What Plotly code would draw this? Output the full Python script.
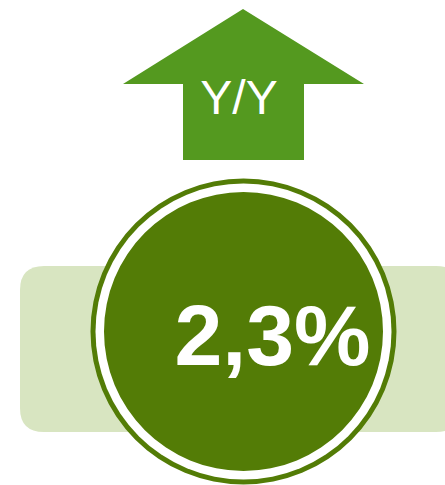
import plotly.graph_objects as go

# Data
indicator_label = ["Y/Y"]
indicator_value = [2.3]
direction = ["up"]

W, H = 445, 485
fig = go.Figure()

arrow_col = "#54991F"
circ_col = "#537C06"
band_col = "#D8E5C1"

def rounded_rect(x0, y0, x1, y1, r):
    return (f"M {x0+r},{y0} L {x1-r},{y0} Q {x1},{y0} {x1},{y0+r} "
            f"L {x1},{y1-r} Q {x1},{y1} {x1-r},{y1} L {x0+r},{y1} "
            f"Q {x0},{y1} {x0},{y1-r} L {x0},{y0+r} Q {x0},{y0} {x0+r},{y0} Z")

shapes = []
# background band
shapes.append(dict(type="path", path=rounded_rect(20, 266, 460, 432, 24),
                   fillcolor=band_col, line=dict(width=0), layer="below"))
# arrow
if direction[0] == "up":
    arrow = "M 243,9 L 364,84 L 304,84 L 304,160 L 183,160 L 183,84 L 123,84 Z"
    shapes.append(dict(type="path", path=arrow, fillcolor=arrow_col, line=dict(width=0), layer="below"))
cx, cy = 243.5, 331.5
R = 153
shapes.append(dict(type="circle", x0=cx-R, x1=cx+R, y0=cy-R, y1=cy+R,
                   fillcolor=circ_col, line=dict(width=0), layer="below"))
R2 = 148
shapes.append(dict(type="circle", x0=cx-R2, x1=cx+R2, y0=cy-R2, y1=cy+R2,
                   fillcolor="white", line=dict(width=0), layer="below"))
R3 = 139.5
shapes.append(dict(type="circle", x0=cx-R3, x1=cx+R3, y0=cy-R3, y1=cy+R3,
                   fillcolor=circ_col, line=dict(width=0), layer="below"))

val_text = f"{indicator_value[0]:.1f}".replace(".", ",") + "%"

fig.add_trace(go.Scatter(x=[239], y=[102], mode="text", text=[indicator_label[0]],
                         textfont=dict(family="Liberation Sans, Arial", size=48, color="white"),
                         hoverinfo="skip", showlegend=False))
fig.add_trace(go.Scatter(x=[272.5], y=[343], mode="text", text=[f"<b>{val_text}</b>"],
                         textfont=dict(family="Liberation Sans, Arial", size=86, color="white"),
                         hoverinfo="skip", showlegend=False))

fig.update_layout(
    width=W, height=H, margin=dict(l=0, r=0, t=0, b=0),
    paper_bgcolor="white", plot_bgcolor="rgba(0,0,0,0)",
    shapes=shapes,
    xaxis=dict(range=[0, W], visible=False, fixedrange=True),
    yaxis=dict(range=[H, 0], visible=False, fixedrange=True),
    showlegend=False,
)
fig.write_html("out.html", config={"displayModeBar": False},
               post_script="document.body.style.margin='0';document.body.style.overflow='hidden';")
